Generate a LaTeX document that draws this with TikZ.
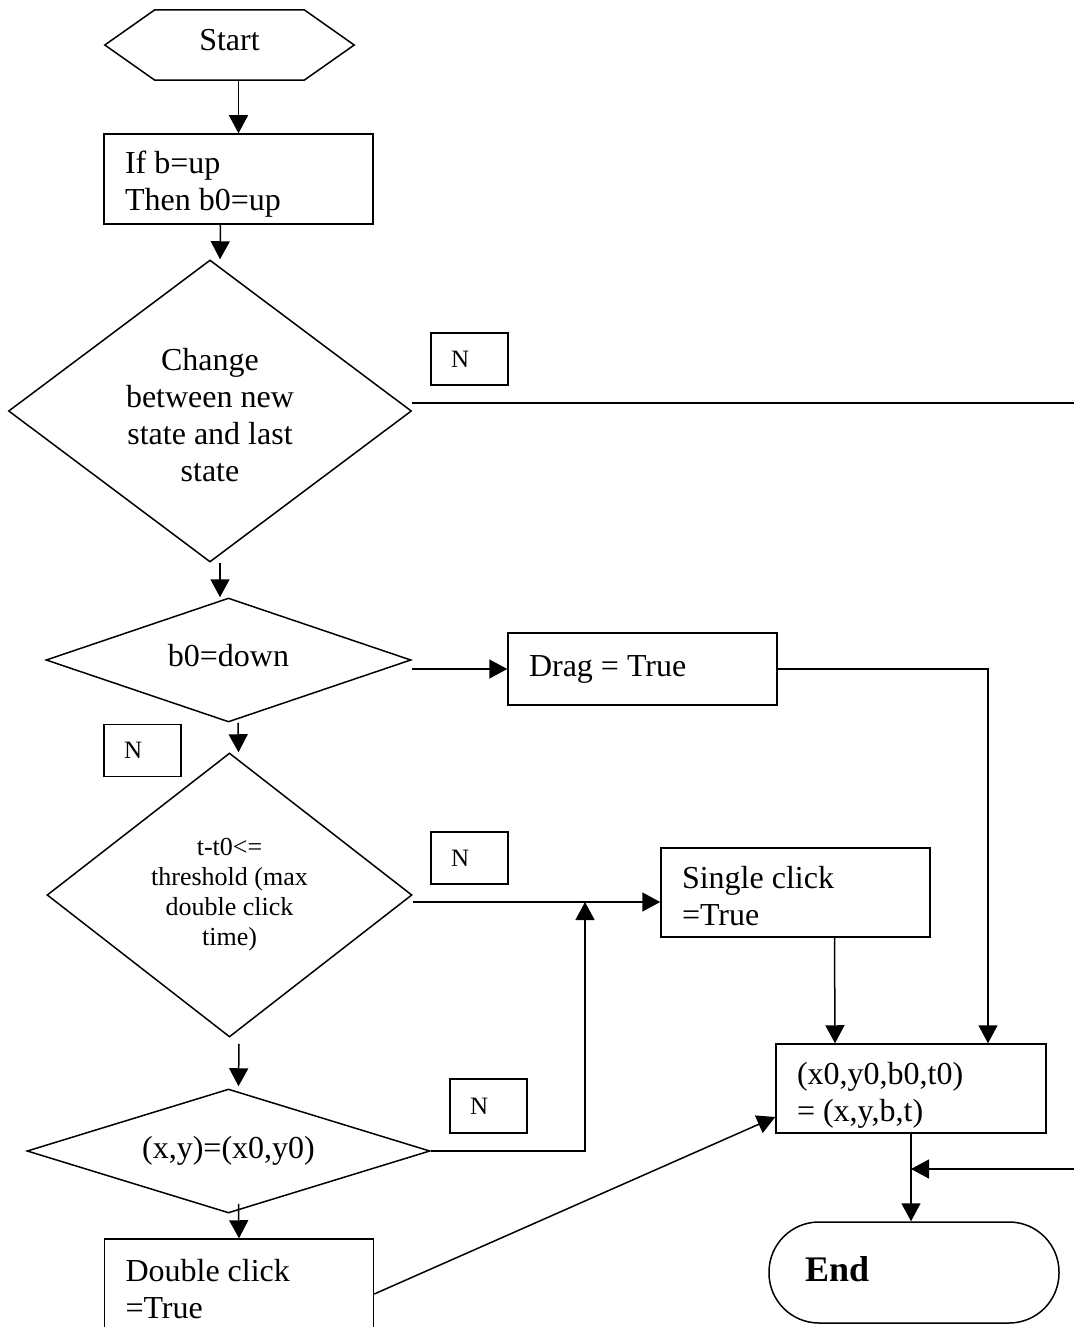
\documentclass[tikz,border=0pt]{standalone}
\usepackage{fontspec}
\setmainfont{Liberation Serif}
\usetikzlibrary{shapes.geometric,arrows.meta}
\begin{document}
\begin{tikzpicture}[x=1pt,y=-1pt,
  arr/.style={-{Triangle[length=18pt,width=19pt]}, line width=1.5pt},
  ln/.style={line width=1.5pt},
  bigtext/.style={font=\fontsize{32}{37}\selectfont},
  boxn/.style={draw, line width=1.5pt, minimum width=269pt, inner sep=0pt},
  boxtext/.style={text width=227pt, inner sep=0pt, align=flush left, bigtext},
  dia/.style={draw, shape=diamond, line width=1.5pt, inner sep=0pt},
  diatext/.style={inner sep=0pt, align=center},
  nbox/.style={draw, line width=1.5pt, minimum width=77pt, minimum height=52pt, inner ysep=0pt, inner xsep=20pt, text width=37pt, align=flush left, font=\fontsize{25}{28}\selectfont},
]
\useasboundingbox (0,0) rectangle (1074,1327);

% Start hexagon
\node[minimum width=249pt, minimum height=70pt, inner sep=0pt] (start) at (229.5,45) {};
\draw[ln] (start.west) -- ([xshift=50pt]start.north west) -- ([xshift=-50pt]start.north east) -- (start.east) -- ([xshift=-50pt]start.south east) -- ([xshift=50pt]start.south west) -- cycle;
\node[inner sep=0pt, bigtext] (startt) at ([yshift=5pt]start.center) {Start};

% shapes
\node[boxn, minimum height=90pt] (b1) at (238.5,179) {};
\node[dia, minimum width=403pt, minimum height=302pt] (d1) at (210,411) {};
\node[nbox] (n1) at (469.5,359) {N};
\node[dia, minimum width=365pt, minimum height=124pt] (d2) at (228.5,660) {};
\node[boxn, minimum height=72pt] (drag) at (642.5,669) {};
\node[nbox] (n2) at (142.5,750.5) {N};
\node[dia, minimum width=365pt, minimum height=284pt] (d3) at (229.5,895) {};
\node[nbox] (n3) at (469.5,858) {N};
\node[boxn, minimum height=89pt] (single) at (795.5,892.5) {};
\node[dia, minimum width=403pt, minimum height=124pt] (d4) at (228.5,1151) {};
\node[nbox, minimum height=54pt] (n4) at (488.5,1106) {N};
\node[boxn, minimum height=110pt] (dbl) at (239,1294) {};
\node[boxn, minimum width=270pt, minimum height=89pt] (final) at (911,1088.5) {};
\node[draw, line width=1.5pt, rounded corners=50pt, minimum width=290pt, minimum height=101pt, inner sep=0pt] (end) at (914,1272.5) {};

% texts
\node[boxtext] (b1t) at ([yshift=-5pt]b1.center) {If b=up\\Then b0=up};
\node[diatext, font=\fontsize{32}{37}\selectfont] (d1t) at ([yshift=-4pt]d1.center) {Change\\between new\\state and last\\state};
\node[diatext, bigtext] (d2t) at ([yshift=4pt]d2.center) {b0=down};
\node[boxtext] (dragt) at (drag.center) {Drag = True};
\node[diatext, font=\fontsize{26}{30}\selectfont] (d3t) at (d3.center) {t-t0<=\\threshold (max\\double click\\time)};
\node[boxtext] (singlet) at ([yshift=-4pt]single.center) {Single click\\=True};
\node[diatext, bigtext] (d4t) at (d4.center) {(x,y)=(x0,y0)};
\node[boxtext] (dblt) at ([yshift=5pt]dbl.center) {Double click\\=True};
\node[boxtext, text width=228pt] (finalt) at ([yshift=-7pt]final.center) {(x0,y0,b0,t0)\\= (x,y,b,t)};
\node[text width=218pt, inner sep=0pt, align=flush left, font=\bfseries\fontsize{36}{40}\selectfont] (endt) at ([yshift=3.5pt]end.center) {End};

% connectors
\coordinate (jn) at (585,902);
\coordinate (r1) at (1074,403);
\coordinate (r2) at (1074,1169);

\draw[arr] (b1.north |- start.south) -- (b1.north);
\draw[arr] ([xshift=-18pt]b1.south) -- ([xshift=10pt]d1.north);
\draw[ln] (d1.east |- r1) -- (r1);
\draw[arr] ([xshift=10pt]d1.south) -- ([xshift=-8.5pt]d2.north);
\draw[arr] (d2.east |- drag.west) -- (drag.west);
\draw[arr] (drag.east) -| ([xshift=77pt]final.north);
\draw[arr] ([xshift=9.5pt]d2.south) -- ([xshift=9pt]d3.north);
\draw[arr] (d3.east |- jn) -- (jn -| single.west);
\draw[arr] (d4.east) -| (jn);
\draw[arr] ([xshift=39pt]single.south) -- ([xshift=-76pt]final.north);
\draw[arr] ([xshift=9.5pt,yshift=-6pt]d3.south) -- ([xshift=10pt,yshift=2pt]d4.north);
\draw[arr] ([xshift=10pt,yshift=10pt]d4.south) -- (dbl.north);
\draw[arr] (dbl.east) -- ([yshift=-28.5pt]final.west);
\draw[arr] (final.south) -- (final.south |- end.north);
\draw[arr] (r2) -- (r2 -| final.south);
\end{tikzpicture}
\end{document}
